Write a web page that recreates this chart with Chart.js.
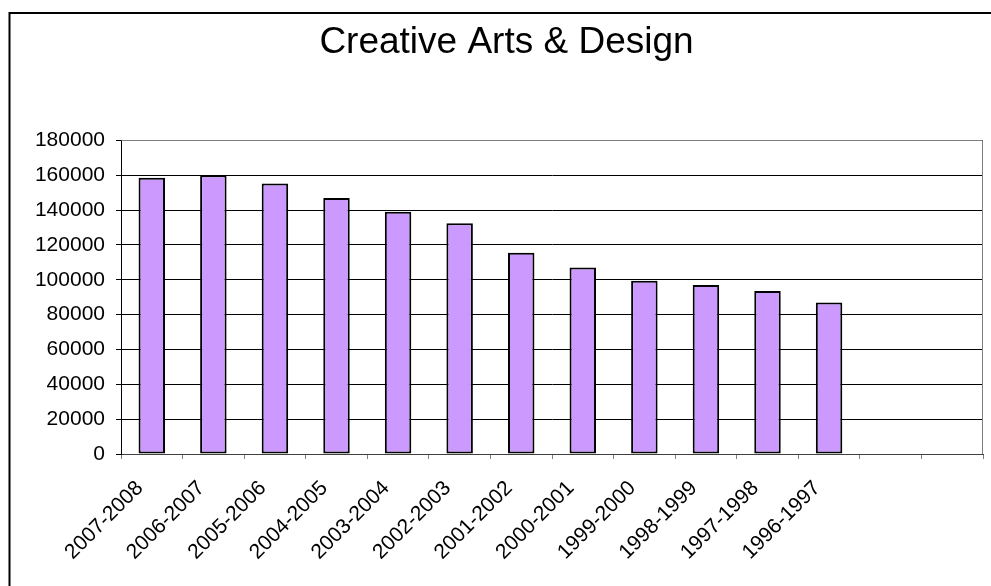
<!DOCTYPE html>
<html>
<head>
<meta charset="utf-8">
<script src="https://cdn.jsdelivr.net/npm/chart.js@4/dist/chart.umd.min.js"></script>
<style>
    html, body { margin: 0; padding: 0; background: #fff; overflow: hidden; }
    #wrap { width: 991px; height: 586px; position: relative; }
</style>
</head>
<body>
<div id="wrap"><canvas id="chartArts" width="991" height="586"></canvas></div>
<script>
const chartTitle = "Creative Arts & Design";

// academic years, newest first; two trailing empty slots on the axis
const years = [
    "2007-2008", "2006-2007", "2005-2006", "2004-2005", "2003-2004", "2002-2003",
    "2001-2002", "2000-2001", "1999-2000", "1998-1999", "1997-1998", "1996-1997",
    "", ""
];

const enrolments = [
    158500, 160000, 155300, 147000, 139000, 132500,
    115500, 107000, 99500, 97000, 93500, 87000,
    null, null
];

const yTicks = { min: 0, max: 180000, step: 20000 };

const FONT = "'Liberation Sans', Arial, sans-serif";

// white page, outer frame, grey plot-area border
const framePlugin = {
    id: "frame",
    beforeDraw(chart) {
        const ctx = chart.ctx;
        ctx.save();
        ctx.fillStyle = "#fff";
        ctx.fillRect(0, 0, chart.width, chart.height);
        ctx.strokeStyle = "#000";
        ctx.lineWidth = 2;
        ctx.strokeRect(9.5, 13, 2000, 2000);
        ctx.restore();
    },
    beforeDatasetsDraw(chart) {
        const a = chart.chartArea;
        const ctx = chart.ctx;
        ctx.save();
        ctx.strokeStyle = "#808080";
        ctx.lineWidth = 1;
        ctx.beginPath();
        ctx.moveTo(Math.round(a.left) + 0.5, Math.round(a.top) + 0.5);
        ctx.lineTo(Math.round(a.right) - 0.5, Math.round(a.top) + 0.5);
        ctx.lineTo(Math.round(a.right) - 0.5, Math.round(a.bottom));
        ctx.stroke();
        ctx.restore();
    }
};

new Chart(document.getElementById("chartArts"), {
    type: "bar",
    data: {
        labels: years,
        datasets: [{
            data: enrolments,
            backgroundColor: "#cc99ff",
            borderColor: "#000",
            borderWidth: 2,
            borderSkipped: false,
            categoryPercentage: 1,
            barPercentage: 0.43
        }]
    },
    options: {
        responsive: false,
        animation: false,
        devicePixelRatio: 1,
        // left padding keeps the title centred on the framed area
        layout: { padding: { left: 30, right: 8, top: 0, bottom: 0 } },
        plugins: {
            legend: { display: false },
            tooltip: { enabled: false },
            title: {
                display: true,
                text: chartTitle,
                color: "#000",
                font: { family: FONT, size: 37, weight: "normal" },
                padding: { top: 21, bottom: 75 }
            }
        },
        scales: {
            x: {
                offset: true,
                grid: {
                    drawOnChartArea: false,
                    drawTicks: true,
                    tickLength: 5,
                    color: "#808080",
                    offset: true
                },
                border: { color: "#404040", width: 1 },
                ticks: {
                    autoSkip: false,
                    minRotation: 45,
                    maxRotation: 45,
                    padding: 17,
                    labelOffset: -12,
                    color: "#000",
                    font: { family: FONT, size: 21 }
                },
                afterFit(scale) { scale.height = 132; }
            },
            y: {
                min: yTicks.min,
                max: yTicks.max,
                grid: {
                    color: "#000",
                    tickLength: 5,
                    drawTicks: true
                },
                border: { color: "#000", width: 1 },
                ticks: {
                    stepSize: yTicks.step,
                    padding: 11,
                    color: "#000",
                    font: { family: FONT, size: 21 },
                    callback: v => String(v)
                },
                afterFit(scale) { scale.width = 91; }
            }
        }
    },
    plugins: [framePlugin]
});
</script>
</body>
</html>
